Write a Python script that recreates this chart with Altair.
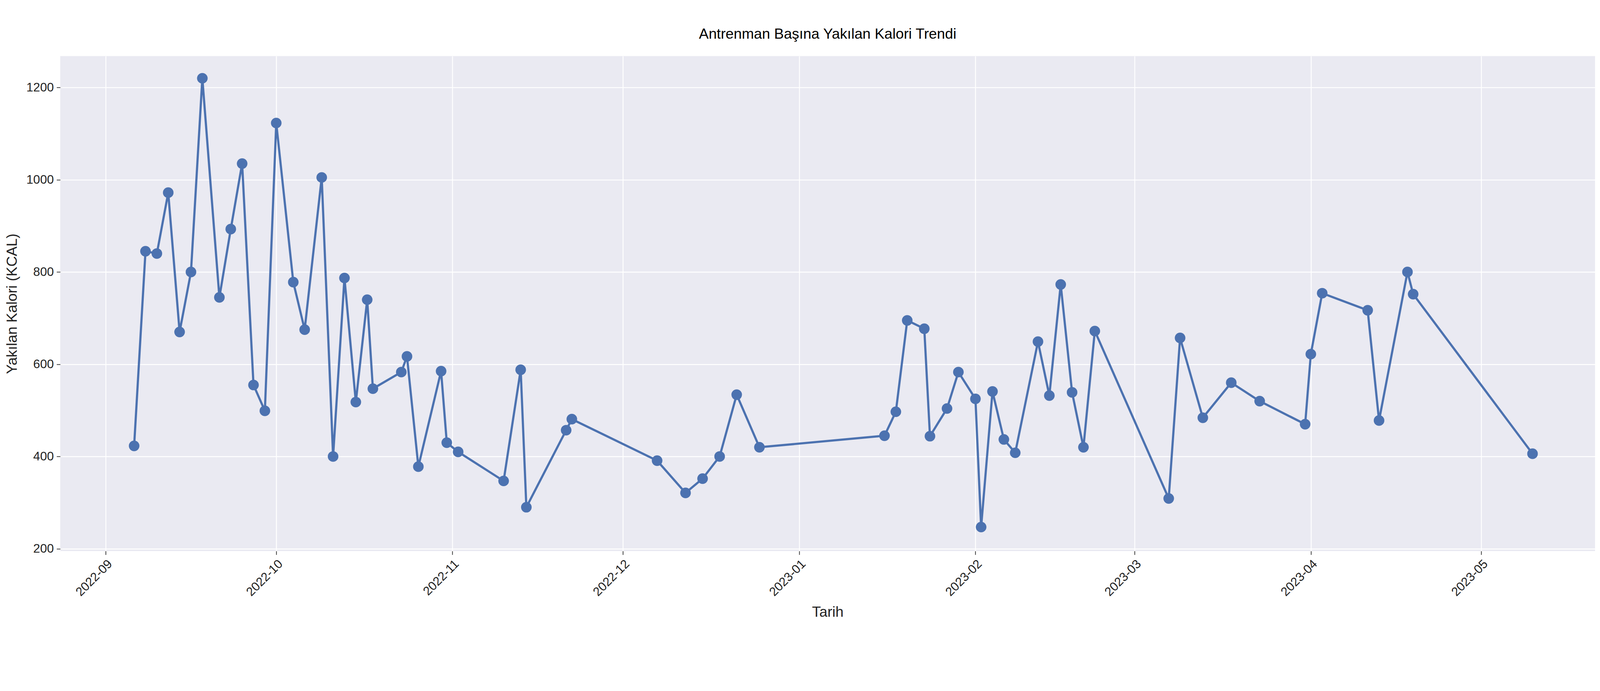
import pandas as pd
import altair as alt

dates = [
    "2022-09-06", "2022-09-08", "2022-09-10", "2022-09-12", "2022-09-14", "2022-09-16",
    "2022-09-18", "2022-09-21", "2022-09-23", "2022-09-25", "2022-09-27", "2022-09-29",
    "2022-10-01", "2022-10-04", "2022-10-06", "2022-10-09", "2022-10-11", "2022-10-13",
    "2022-10-15", "2022-10-17", "2022-10-18", "2022-10-23", "2022-10-24", "2022-10-26",
    "2022-10-30", "2022-10-31", "2022-11-02", "2022-11-10", "2022-11-13", "2022-11-14",
    "2022-11-21", "2022-11-22", "2022-12-07", "2022-12-12", "2022-12-15", "2022-12-18",
    "2022-12-21", "2022-12-25", "2023-01-16", "2023-01-18", "2023-01-20", "2023-01-23",
    "2023-01-24", "2023-01-27", "2023-01-29", "2023-02-01", "2023-02-02", "2023-02-04",
    "2023-02-06", "2023-02-08", "2023-02-12", "2023-02-14", "2023-02-16", "2023-02-18",
    "2023-02-20", "2023-02-22", "2023-03-07", "2023-03-09", "2023-03-13", "2023-03-18",
    "2023-03-23", "2023-03-31", "2023-04-01", "2023-04-03", "2023-04-11", "2023-04-13",
    "2023-04-18", "2023-04-19", "2023-05-10",
]
calories = [
    423, 845, 840, 972, 670, 800,
    1220, 745, 893, 1035, 555, 499,
    1123, 778, 675, 1005, 400, 787,
    518, 740, 547, 583, 617, 378,
    585, 430, 410, 347, 588, 290,
    457, 481, 391, 321, 352, 400,
    534, 420, 445, 497, 695, 677,
    444, 504, 583, 525, 247, 541,
    437, 408, 649, 532, 773, 539,
    420, 672, 309, 657, 484, 560,
    520, 470, 622, 754, 717, 478,
    800, 752, 406,
]
month_ticks = [
    "2022-09-01", "2022-10-01", "2022-11-01", "2022-12-01", "2023-01-01",
    "2023-02-01", "2023-03-01", "2023-04-01", "2023-05-01",
]

df = pd.DataFrame({"Tarih": pd.to_datetime(dates), "Kalori": calories})

font = "Liberation Sans"
blue = "#4C72B0"

base = alt.Chart(df).encode(
    x=alt.X("Tarih:T", title="Tarih",
            scale=alt.Scale(domain=["2022-08-24", "2023-05-21"]),
            axis=alt.Axis(values=month_ticks, format="%Y-%m", labelAngle=-45,
                          labelAlign="right", labelBaseline="top")),
    y=alt.Y("Kalori:Q", title="Yakılan Kalori (KCAL)",
            scale=alt.Scale(domain=[195, 1268], nice=False, zero=False),
            axis=alt.Axis(values=[200, 400, 600, 800, 1000, 1200], format="d")),
)

line = base.mark_line(color=blue, strokeWidth=6)
points = base.mark_circle(color=blue, size=850, opacity=1)

chart = (line + points).properties(
    width=4220, height=1360, background="white",
    title=alt.TitleParams("Antrenman Başına Yakılan Kalori Trendi",
                          font=font, fontSize=40, fontWeight="normal", offset=40),
).configure_view(fill="#EAEAF2", stroke=None).configure_axis(
    grid=True, gridColor="white", gridWidth=2.5, domain=False,
    tickColor="#333333", tickSize=10, tickWidth=2,
    labelFont=font, labelFontSize=34, labelColor="#222222", labelPadding=8,
    titleFont=font, titleFontSize=40, titleFontWeight="normal", titleColor="#222222",
    titlePadding=18,
)

chart.save("out.html", embed_options={"renderer": "svg", "actions": False})
